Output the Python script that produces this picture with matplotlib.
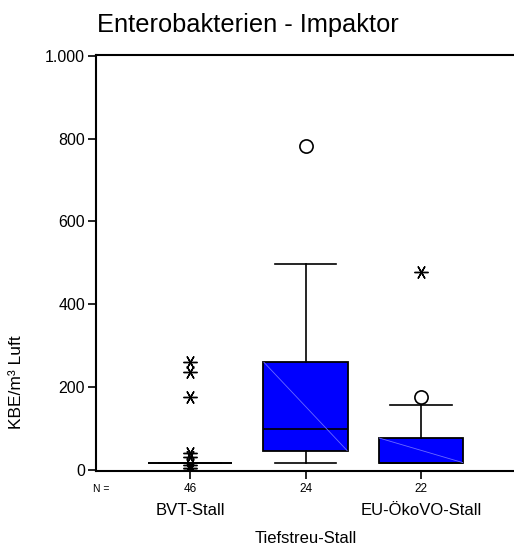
import matplotlib
matplotlib.use("Agg")
import matplotlib.pyplot as plt

plt.rcParams["font.family"] = ["Liberation Sans", "DejaVu Sans"]

groups = ["BVT-Stall", "Tiefstreu-Stall", "EU-ÖkoVO-Stall"]
n_counts = [46, 24, 22]
q1 = [18, 47, 18]
median = [18, 100, 18]
q3 = [18, 260, 77]
whisker_lo = [18, 18, 18]
whisker_hi = [18, 497, 157]
outliers = [[], [781], [176]]
extremes = [[260, 237, 176, 40, 32, 12, 5, 0], [], [479]]
yticks = [0, 200, 400, 600, 800, 1000]
ytick_labels = ["0", "200", "400", "600", "800", "1.000"]

W, H = 514, 549
fig = plt.figure(figsize=(W / 100, H / 100), dpi=100)
ax = fig.add_axes([95.5 / W, (H - 471) / H, (W - 95.5) / W, 416 / H])

positions = [1, 2, 3]
stats = []
for i in range(3):
    stats.append(dict(med=median[i], q1=q1[i], q3=q3[i],
                      whislo=whisker_lo[i], whishi=whisker_hi[i], fliers=[]))

ax.bxp(stats, positions=positions, widths=0.73, patch_artist=True,
       showfliers=False, capwidths=0.53,
       boxprops=dict(facecolor="#0000ff", edgecolor="black", linewidth=1.3),
       medianprops=dict(color="black", linewidth=1.2),
       whiskerprops=dict(color="black", linewidth=1.2),
       capprops=dict(color="black", linewidth=1.2))

# thin diagonal artefact inside the boxes
for i, p in enumerate(positions):
    if q3[i] > q1[i]:
        ax.plot([p - 0.36, p + 0.36], [q3[i], q1[i]], color="#6a6aff",
                linewidth=0.6, zorder=3)

for i, p in enumerate(positions):
    if outliers[i]:
        ax.plot([p] * len(outliers[i]), outliers[i], linestyle="none",
                marker="o", markersize=9.5, markerfacecolor="white",
                markeredgecolor="black", markeredgewidth=1.2, zorder=4)
    if extremes[i]:
        ax.plot([p] * len(extremes[i]), extremes[i], linestyle="none",
                marker=(6, 2, 90), markersize=10, markeredgecolor="black",
                markeredgewidth=1.0, zorder=4)

ax.set_xlim(0.182, 3.805)
ax.set_ylim(-2.4, 1001.7)
ax.set_yticks(yticks)
ax.set_yticklabels(ytick_labels, fontsize=11.5)
ax.set_xticks(positions)
ax.set_xticklabels([])
ax.tick_params(axis="both", direction="out", length=5.5, width=1.2)
ax.tick_params(axis="y", pad=2)

for side in ["left", "bottom", "top"]:
    ax.spines[side].set_linewidth(1.5)
ax.spines["right"].set_visible(False)

tr = ax.get_xaxis_transform()
ax.text(0.182 - 0.025, -0.0433, "N =", transform=tr, fontsize=7.5,
        ha="left", va="center")
for i, p in enumerate(positions):
    ax.text(p, -0.0433, str(n_counts[i]), transform=tr, fontsize=8.5,
            ha="center", va="center")
    row_y = -0.163 if i % 2 else -0.095
    ax.text(p, row_y, groups[i], transform=tr, fontsize=12,
            ha="center", va="center")

fig.text(17 / W, (H - 382) / H, "KBE/m³ Luft", rotation=90, fontsize=12.5,
         ha="center", va="center")
fig.text(97 / W, (H - 32) / H, "Enterobakterien - Impaktor", fontsize=18.3,
         ha="left", va="baseline")

fig.savefig("out.png", dpi=100)
